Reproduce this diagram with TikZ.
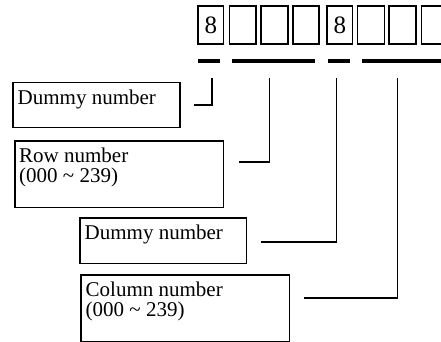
\documentclass[tikz,border=0pt]{standalone}
\usepackage{fontspec}
\setmainfont{Liberation Serif}
\begin{document}
\begin{tikzpicture}[x=1pt,y=-1pt,
  digitbox/.style={draw,line width=1.7pt,inner sep=0pt,anchor=north west,minimum height=38.5pt},
  bar/.style={fill=black,draw=none,inner sep=0pt,minimum height=4pt,anchor=west},
  labelbox/.style={draw,line width=1.7pt,inner sep=0pt,anchor=north west},
  labeltext/.style={inner sep=0pt,anchor=base west,font=\fontsize{21}{21}\selectfont},
  conn/.style={line width=1.7pt}]
\useasboundingbox (0,0) rectangle (441,342);
% top digit boxes
\node[digitbox,minimum width=25.4pt,font=\fontsize{25}{25}\selectfont] (d1) at (197.3,5) {8};
\node[digitbox,minimum width=26.3pt] (d2) at (228.7,5) {};
\node[digitbox,minimum width=27pt] (d3) at (260,5) {};
\node[digitbox,minimum width=26.3pt] (d4) at (292,5) {};
\node[digitbox,minimum width=25.4pt,font=\fontsize{25}{25}\selectfont] (d5) at (326.3,5) {8};
\node[digitbox,minimum width=26.8pt] (d6) at (356.7,5) {};
\node[digitbox,minimum width=26.5pt] (d7) at (388.3,5) {};
\node[digitbox,minimum width=25pt] (d8) at (420.5,5) {};
% bars
\node[bar,minimum width=22.7pt] (b1) at (197.3,61.3) {};
\node[bar,minimum width=83.3pt] (b2) at (231.7,61.3) {};
\node[bar,minimum width=21.6pt] (b3) at (327.7,61.3) {};
\node[bar,minimum width=80pt] (b4) at (361.7,61.3) {};
% label boxes
\node[labelbox,minimum width=166.7pt,minimum height=45pt] (la) at (12.3,81.7) {};
\node[labelbox,minimum width=208.7pt,minimum height=66.7pt] (lb) at (14,140) {};
\node[labelbox,minimum width=166.7pt,minimum height=45.4pt] (lc) at (79,217.3) {};
\node[labelbox,minimum width=208.7pt,minimum height=67pt] (ld) at (80,274.3) {};
% label texts
\node[labeltext] (ta) at (17.5,105) {Dummy number};
\node[labeltext] (tb1) at (19,162.5) {Row number};
\node[labeltext] (tb2) at (19,182.5) {(000 \textasciitilde{} 239)};
\node[labeltext] (tc) at (84.5,239.3) {Dummy number};
\node[labeltext] (td1) at (85.5,296.2) {Column number};
\node[labeltext] (td2) at (85.5,316.2) {(000 \textasciitilde{} 239)};
% connector ends
\coordinate (s1) at (212,78);   \coordinate (e1) at (194,105);
\coordinate (s2) at (269.5,78); \coordinate (e2) at (239,161.7);
\coordinate (s3) at (336.5,78); \coordinate (e3) at (260.7,241.7);
\coordinate (s4) at (397.5,78); \coordinate (e4) at (304.3,297.7);
\draw[conn] (s1) |- (e1);
\draw[conn] (s2) |- (e2);
\draw[conn] (s3) |- (e3);
\draw[conn] (s4) |- (e4);
\end{tikzpicture}
\end{document}
